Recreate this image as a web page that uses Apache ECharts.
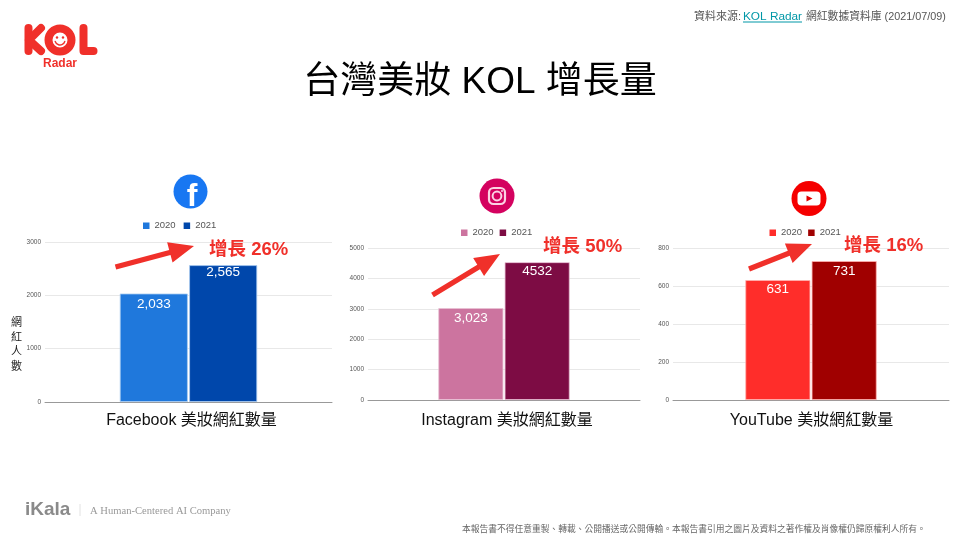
<!DOCTYPE html>
<html>
<head>
<meta charset="utf-8">
<title>台灣美妝 KOL 增長量</title>
<script src="https://cdn.jsdelivr.net/npm/echarts@6/dist/echarts.min.js"></script>
<style>
html, body { margin: 0; padding: 0; background: #fff; }
#main { width: 960px; height: 540px; }
</style>
</head>
<body>
<div id="main"></div>
<script>
// data
var years = ['2020', '2021'];
var platforms = ['Facebook 美妝網紅數量', 'Instagram 美妝網紅數量', 'YouTube 美妝網紅數量'];
var facebookValues = [2033, 2565];
var instagramValues = [3023, 4532];
var youtubeValues = [631, 731];
var facebookLabels = ['2,033', '2,565'];
var instagramLabels = ['3,023', '4532'];
var youtubeLabels = ['631', '731'];
var growthLabels = ['增長 26%', '增長 50%', '增長 16%'];

var FONT = '"Liberation Sans", "Noto Sans CJK TC", sans-serif';
var RED = '#f0302a';

var panels = [
	{ values: facebookValues, labels: facebookLabels, colors: ['#1f78dc', '#0047ab'], border: '#a9cbf0', labelShift: [1, -3],
		left: 45, top: 242, width: 287, height: 160, max: 3000, interval: 1000, barWidth: 68, pad: 6, margin: 11, legendLeft: 143, legendTop: 221, legendGap: 8 },
	{ values: instagramValues, labels: instagramLabels, colors: ['#cc749f', '#7d0c44'], border: '#e9bfd3', labelShift: [0, -1],
		left: 368, top: 248, width: 272, height: 152, max: 5000, interval: 1000, barWidth: 65, pad: 6, margin: 13, legendLeft: 461, legendTop: 228, legendGap: 6 },
	{ values: youtubeValues, labels: youtubeLabels, colors: ['#ff2d2a', '#a00000'], border: '#ffb3b0', labelShift: [-1, 0],
		left: 673, top: 248, width: 276, height: 152, max: 800, interval: 200, barWidth: 65, pad: 1, margin: 13, legendLeft: 769.5, legendTop: 228, legendGap: 6 }
];

var grids = [], xAxes = [], yAxes = [], legends = [], series = [];

panels.forEach(function (p, i) {
	grids.push({ left: p.left, top: p.top, width: p.width, height: p.height });
	xAxes.push({
		type: 'category',
		gridIndex: i,
		data: [platforms[i]],
		axisTick: { show: false },
		axisLine: { lineStyle: { color: '#999', width: 1 } },
		axisLabel: { color: '#111', fontSize: 16, fontFamily: FONT, margin: p.margin, padding: [0, 0, 0, p.pad] }
	});
	yAxes.push({
		type: 'value',
		gridIndex: i,
		min: 0,
		max: p.max,
		interval: p.interval,
		axisLine: { show: false },
		axisTick: { show: false },
		axisLabel: { color: '#555', fontSize: 6.5, fontFamily: FONT, margin: 4, formatter: function (v) { return String(v); } },
		splitLine: { lineStyle: { color: '#e8e8e8', width: 1 } }
	});
	legends.push({
		left: p.legendLeft,
		top: p.legendTop,
		padding: 0,
		icon: 'rect',
		itemWidth: 6.5,
		itemHeight: 6.5,
		itemGap: p.legendGap,
		itemStyle: { borderWidth: 0 },
		data: [years[0] + ' ' + platforms[i], years[1] + ' ' + platforms[i]],
		formatter: function (name) { return name.split(' ')[0]; },
		textStyle: { color: '#555', fontSize: 9.5, fontFamily: FONT }
	});
	years.forEach(function (y, k) {
		series.push({
			name: y + ' ' + platforms[i],
			type: 'bar',
			xAxisIndex: i,
			yAxisIndex: i,
			data: [p.values[k]],
			barWidth: p.barWidth,
			barGap: '2%',
			itemStyle: { color: p.colors[k], borderColor: p.border, borderWidth: 0.8 },
			label: {
				show: true,
				position: 'insideTop',
				distance: 3,
				offset: [0, p.labelShift[k]],
				color: '#fff',
				fontSize: 13.5,
				fontFamily: FONT,
				formatter: p.labels[k]
			}
		});
	});
});

function text(x, y, str, size, fill, extra) {
	var style = { x: x, y: y, text: str, fontSize: size, fill: fill, fontFamily: FONT, textVerticalAlign: 'middle' };
	for (var key in extra) style[key] = extra[key];
	return { type: 'text', silent: true, style: style };
}

function arrow(x1, y1, x2, y2) {
	var len = Math.sqrt((x2 - x1) * (x2 - x1) + (y2 - y1) * (y2 - y1));
	var ux = (x2 - x1) / len, uy = (y2 - y1) / len;
	var nx = -uy, ny = ux;
	var head = 25, shaft = 2.6, wing = 10.5;
	var bx = x2 - ux * head, by = y2 - uy * head;
	return {
		type: 'polygon',
		silent: true,
		shape: { points: [
			[x1 + nx * shaft, y1 + ny * shaft],
			[bx + nx * shaft, by + ny * shaft],
			[bx + nx * wing, by + ny * wing],
			[x2, y2],
			[bx - nx * wing, by - ny * wing],
			[bx - nx * shaft, by - ny * shaft],
			[x1 - nx * shaft, y1 - ny * shaft]
		] },
		style: { fill: RED }
	};
}

function stroke(color, width) {
	return { stroke: color, lineWidth: width, fill: null, lineCap: 'round', lineJoin: 'round' };
}

var graphics = [
	// KOL Radar logo
	{ type: 'polyline', silent: true, shape: { points: [[28.5, 28], [28.5, 51]] }, style: stroke(RED, 8) },
	{ type: 'polyline', silent: true, shape: { points: [[41, 28], [29, 40], [41, 51]] }, style: stroke(RED, 8) },
	{ type: 'circle', silent: true, shape: { cx: 60, cy: 40, r: 11.5 }, style: { fill: '#fff', stroke: RED, lineWidth: 8 } },
	{ type: 'circle', silent: true, shape: { cx: 57, cy: 37.5, r: 1.2 }, style: { fill: RED } },
	{ type: 'circle', silent: true, shape: { cx: 63, cy: 37.5, r: 1.2 }, style: { fill: RED } },
	{ type: 'arc', silent: true, shape: { cx: 60, cy: 40, r: 5, startAngle: 0.3, endAngle: Math.PI - 0.3 }, style: stroke(RED, 1.4) },
	{ type: 'polyline', silent: true, shape: { points: [[83.5, 28], [83.5, 51], [93.5, 51]] }, style: stroke(RED, 8) },
	text(60, 64, 'Radar', 12, RED, { textAlign: 'center', fontWeight: 'bold' }),

	// header
	text(694, 17, '資料來源:', 11, '#555'),
	text(743, 17, 'KOL Radar', 11.8, '#0097a7'),
	{ type: 'line', silent: true, shape: { x1: 743, y1: 22, x2: 802, y2: 22 }, style: { stroke: '#0097a7', lineWidth: 1 } },
	text(806, 17, '網紅數據資料庫 (2021/07/09)', 10.8, '#555'),
	text(480, 83, '台灣美妝 KOL 增長量', 37, '#000', { textAlign: 'center' }),

	// y axis title
	text(16.5, 345, '網\n紅\n人\n數', 11, '#222', { textAlign: 'center', lineHeight: 14.7 }),

	// Facebook icon
	{ type: 'circle', silent: true, shape: { cx: 190.5, cy: 191.5, r: 17 }, style: { fill: '#1877f2' } },
	text(192, 197, 'f', 32, '#fff', { textAlign: 'center', fontWeight: 'bold' }),

	// Instagram icon
	{ type: 'circle', silent: true, shape: { cx: 497, cy: 196, r: 17.5 }, style: { fill: '#d4025f' } },
	{ type: 'rect', silent: true, shape: { x: 489, y: 188, width: 16, height: 16, r: 4.5 }, style: { fill: null, stroke: '#fbd3e3', lineWidth: 2.2 } },
	{ type: 'circle', silent: true, shape: { cx: 497, cy: 196, r: 4.4 }, style: { fill: null, stroke: '#fbd3e3', lineWidth: 2 } },
	{ type: 'circle', silent: true, shape: { cx: 502, cy: 191, r: 1 }, style: { fill: '#fbd3e3' } },

	// YouTube icon
	{ type: 'circle', silent: true, shape: { cx: 809, cy: 198.5, r: 17.5 }, style: { fill: '#f50000' } },
	{ type: 'rect', silent: true, shape: { x: 797.5, y: 191.5, width: 23, height: 14, r: 4 }, style: { fill: '#fff' } },
	{ type: 'polygon', silent: true, shape: { points: [[806.5, 195.5], [806.5, 201.5], [812.5, 198.5]] }, style: { fill: '#e00000' } },

	// growth arrows and labels
	arrow(115.5, 267, 194, 246),
	arrow(432.5, 295, 500, 254),
	arrow(749, 269, 812, 244),
	text(209, 250, growthLabels[0], 18.5, RED, { fontWeight: 'bold' }),
	text(543, 246.5, growthLabels[1], 18.5, RED, { fontWeight: 'bold' }),
	text(844, 246, growthLabels[2], 18.5, RED, { fontWeight: 'bold' }),

	// footer
	text(25, 510, 'iKala', 19, '#8a8a8a', { fontWeight: 'bold' }),
	{ type: 'line', silent: true, shape: { x1: 80, y1: 504, x2: 80, y2: 516 }, style: { stroke: '#e2e2e2', lineWidth: 1 } },
	text(90, 511, 'A Human-Centered AI Company', 10.6, '#999', { fontFamily: '"Liberation Serif", serif' }),
	text(462, 530, '本報告書不得任意重製、轉載、公開播送或公開傳輸。本報告書引用之圖片及資料之著作權及肖像權仍歸原權利人所有。', 8.75, '#666')
];

// annotations sit above the gridlines and bars
graphics.forEach(function (g) { g.z = 10; });

var chart = echarts.init(document.getElementById('main'));
chart.setOption({
	animation: false,
	backgroundColor: '#fff',
	grid: grids,
	xAxis: xAxes,
	yAxis: yAxes,
	legend: legends,
	series: series,
	graphic: graphics
});
</script>
</body>
</html>
